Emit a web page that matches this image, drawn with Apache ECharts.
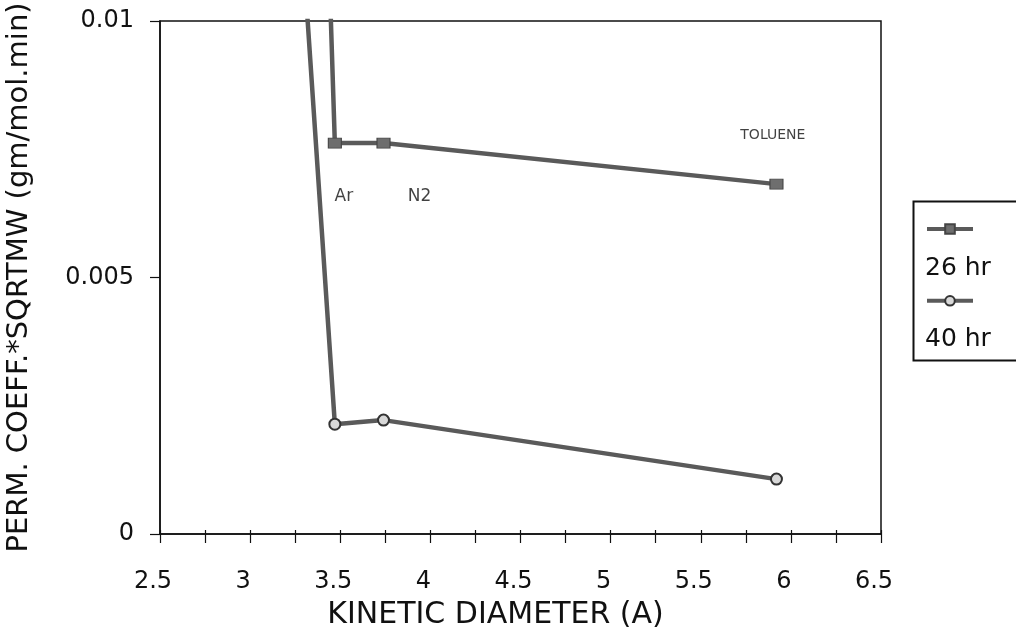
<!DOCTYPE html>
<html>
<head>
<meta charset="utf-8">
<script src="https://cdn.jsdelivr.net/npm/echarts@6/dist/echarts.min.js"></script>
<style>
  html, body { margin: 0; padding: 0; background: #fff; }
  #chart { width: 1016px; height: 636px; }
</style>
</head>
<body>
<div id="chart"></div>
<script>
// kinetic diameter (A); first point lies above the plotted range and is clipped
const diam = [3.3, 3.47, 3.74, 5.92];
const perm26 = [0.0261, 0.00762, 0.00762, 0.00682];
const perm40 = [0.0110, 0.00214, 0.00222, 0.00107];
const seriesNames = ['26 hr', '40 hr'];

// gas annotations (data coordinates)
const gasNames = ['Ar', 'N2', 'TOLUENE'];
const gasX = [3.52, 3.94, 5.90];
const gasY = [0.00657, 0.00657, 0.00778];

const FONT = 'DejaVu Sans';
const LINE = '#5a5a5a';

function toData(ys) {
  return diam.map((x, i) => i === 0 ? { value: [x, ys[i]], symbol: 'none' } : [x, ys[i]]);
}

const chart = echarts.init(document.getElementById('chart'));

const option = {
  animation: false,
  backgroundColor: '#fff',
  textStyle: { fontFamily: FONT, color: '#111' },
  grid: {
    left: 160, right: 135, top: 21, bottom: 102,
    outerBoundsMode: 'none', containLabel: false,
    show: true, borderColor: '#111', borderWidth: 1.5
  },
  xAxis: [
    {
      type: 'value', min: 2.5, max: 6.5, interval: 0.25,
      name: 'KINETIC DIAMETER (A)', nameLocation: 'middle', nameGap: 66,
      nameTextStyle: { fontFamily: FONT, fontSize: 30, color: '#111', padding: [0, 50, 0, 0] },
      axisLine: { lineStyle: { color: '#111', width: 1.5 } },
      axisTick: { length: 9, lineStyle: { color: '#111', width: 1.2 } },
      axisLabel: {
        margin: 36, fontSize: 24, fontFamily: FONT, color: '#111', padding: [0, 14, 0, 0],
        formatter: v => Math.abs(v * 2 - Math.round(v * 2)) < 1e-6 ? String(v) : ''
      },
      splitLine: { show: false }
    },
    {
      type: 'value', min: 2.5, max: 6.5, interval: 0.25, position: 'bottom',
      axisLine: { show: false },
      axisTick: { inside: true, length: 4, lineStyle: { color: '#111', width: 1.2 } },
      axisLabel: { show: false },
      splitLine: { show: false }
    }
  ],
  yAxis: {
    type: 'value', min: 0, max: 0.01, interval: 0.005,
    name: 'PERM. COEFF.*SQRTMW (gm/mol.min)', nameLocation: 'middle', nameGap: 126,
    nameTextStyle: { fontFamily: FONT, fontSize: 29, color: '#111' },
    axisLine: { show: true, lineStyle: { color: '#111', width: 1.5 } },
    axisTick: { show: true, length: 10, lineStyle: { color: '#111', width: 1.2 } },
    axisLabel: {
      margin: 26, fontSize: 24, fontFamily: FONT, color: '#111',
      formatter: v => v === 0 ? '0' : String(+v.toFixed(4))
    },
    splitLine: { show: false }
  },
  legend: [
    {
      data: seriesNames, orient: 'vertical', left: 920, top: 218,
      itemWidth: 46, itemHeight: 12, itemGap: 60, selectedMode: false,
      lineStyle: { width: 4, color: LINE },
      formatter: () => '', textStyle: { fontSize: 8 }
    },
    {
      data: seriesNames, orient: 'vertical', left: 914, top: 250,
      itemWidth: 0, itemHeight: 25, itemGap: 44, selectedMode: false, icon: 'rect',
      itemStyle: { opacity: 0 }, lineStyle: { opacity: 0 },
      textStyle: { fontFamily: FONT, fontSize: 25, color: '#111' }
    }
  ],
  graphic: [
    {
      type: 'rect', left: 911, top: 199,
      shape: { width: 140, height: 159 },
      style: { fill: 'none', stroke: '#111', lineWidth: 2 }
    }
  ],
  series: [
    {
      name: seriesNames[0], type: 'line', data: toData(perm26),
      clip: true, symbol: 'rect', symbolSize: [13, 10],
      lineStyle: { color: LINE, width: 4.5 },
      itemStyle: { color: '#6e6e6e', borderColor: '#444', borderWidth: 1 }
    },
    {
      name: seriesNames[1], type: 'line', data: toData(perm40),
      clip: true, symbol: 'circle', symbolSize: 11,
      lineStyle: { color: LINE, width: 4.5 },
      itemStyle: { color: '#d8d8d8', borderColor: '#333', borderWidth: 2 }
    },
    {
      name: 'gas', type: 'scatter', symbolSize: 0, silent: true,
      data: gasNames.map((n, i) => ({
        name: n, value: [gasX[i], gasY[i]],
        label: { fontSize: n === 'TOLUENE' ? 14 : 17 }
      })),
      label: {
        show: true, position: 'inside', formatter: p => p.name,
        fontFamily: FONT, color: '#111'
      }
    }
  ]
};

chart.setOption(option);
</script>
</body>
</html>
